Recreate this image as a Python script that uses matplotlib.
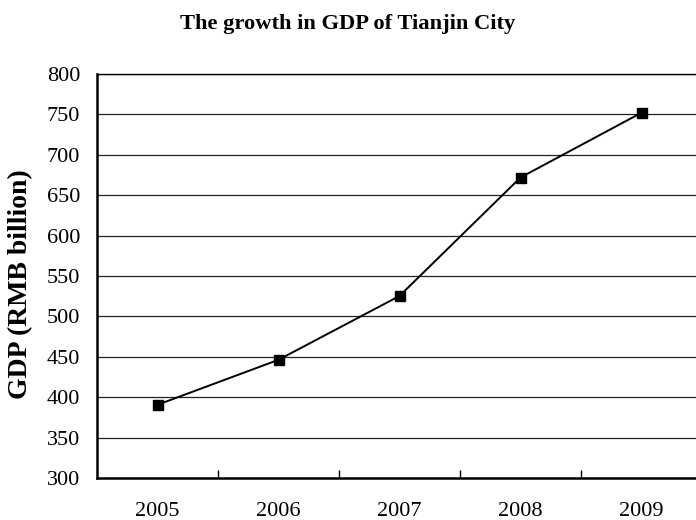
import matplotlib.pyplot as plt
import numpy as np

# GDP of Tianjin City, RMB billion
years = ['2005', '2006', '2007', '2008', '2009']
gdp = [390.6, 446.3, 525.3, 671.9, 752.1]
yticks = [300, 350, 400, 450, 500, 550, 600, 650, 700, 750, 800]

plt.rcParams.update({'font.family': 'Liberation Serif', 'font.size': 16})

fig = plt.figure(figsize=(6.96, 5.2), dpi=100)
ax = fig.add_axes([97/696, 42/520, 605/696, 404/520])

x = np.arange(len(years))
ax.plot(x, gdp, color='black', linewidth=1.4, marker='s', markersize=7.8,
        markerfacecolor='black', markeredgecolor='black', zorder=3)

ax.set_xlim(-0.5, len(years) - 0.5)
ax.set_ylim(300, 800)
ax.set_yticks(yticks)
ax.set_xticks(x)
ax.set_xticklabels(years)
ax.set_xticks(np.arange(0.5, len(years) - 1), minor=True)

ax.yaxis.grid(True, color='#222222', linewidth=0.9)
ax.set_axisbelow(True)
ax.tick_params(axis='y', length=0, pad=12, labelsize=16)
ax.tick_params(axis='x', which='major', length=0, pad=17, labelsize=16)
ax.tick_params(axis='x', which='minor', direction='in', length=6, width=1)

for side in ['left', 'bottom']:
    ax.spines[side].set_linewidth(1.8)
ax.spines['top'].set_linewidth(1.0)
ax.spines['right'].set_visible(False)

ax.set_ylabel('GDP (RMB billion)', fontsize=20, fontweight='bold', labelpad=10)
ax.yaxis.label.set_y(0.48)
fig.text(0.5, 1 - 24/520, 'The growth in GDP of Tianjin City', ha='center', va='center',
         fontsize=16.2, fontweight='bold')

plt.savefig('out.png', dpi=100)
